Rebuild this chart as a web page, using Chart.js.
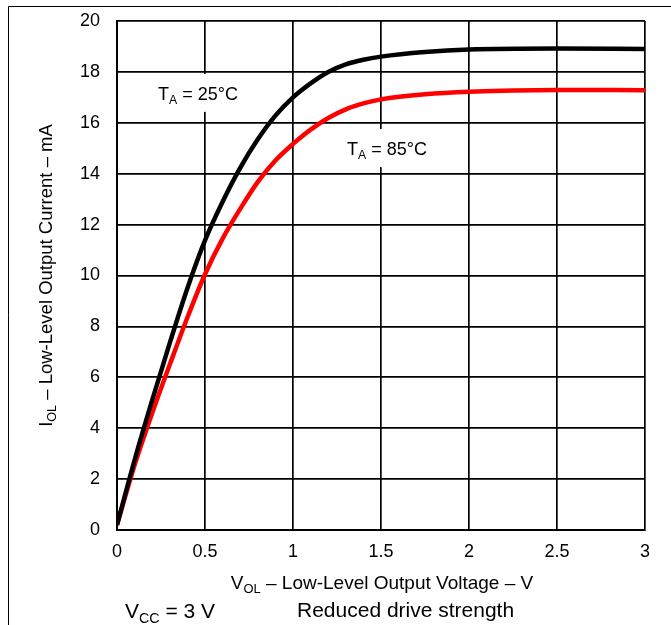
<!DOCTYPE html>
<html>
<head>
<meta charset="utf-8">
<script src="https://cdn.jsdelivr.net/npm/chart.js@4/dist/chart.umd.min.js"></script>
<style>
  body { margin: 0; background: #fff; }
  #wrap { width: 671px; height: 625px; }
</style>
</head>
<body>
<div id="wrap"><canvas id="myChart" width="671" height="625"></canvas></div>
<script>
// V_OL (V) and I_OL (mA)
var voltage = [0, 0.1, 0.2, 0.3, 0.4, 0.5, 0.6, 0.7, 0.8, 0.9, 1.0, 1.1, 1.2, 1.3, 1.4, 1.5, 1.75, 2.0, 2.5, 3.0];
var curr25 = [0.2, 2.75, 5.1, 7.35, 9.5, 11.38, 12.9, 14.23, 15.35, 16.28, 17.0, 17.55, 18.0, 18.3, 18.48, 18.6, 18.78, 18.88, 18.92, 18.9];
var curr85 = [0.2, 2.55, 4.6, 6.5, 8.35, 10.05, 11.45, 12.62, 13.68, 14.52, 15.17, 15.73, 16.19, 16.53, 16.76, 16.92, 17.12, 17.22, 17.29, 17.28];

var xTicks = [0, 0.5, 1, 1.5, 2, 2.5, 3];
var yTicks = [0, 2, 4, 6, 8, 10, 12, 14, 16, 18, 20];

// curve labels, placed in data units
var curveLabels = [
  { main: "T", sub: "A", rest: " = 25°C", v: 0.233, i: 16.9 },
  { main: "T", sub: "A", rest: " = 85°C", v: 1.307, i: 14.73 }
];

var FONT = '"Liberation Sans", Arial, sans-serif';

function toPoints(xs, ys) {
  var pts = [];
  for (var i = 0; i < xs.length; i++) pts.push({ x: xs[i], y: ys[i] });
  return pts;
}

// draw text made of pieces, some of them subscripts
function drawParts(ctx, parts, x, y, size) {
  var cx = x;
  parts.forEach(function (p) {
    var s = p.sub ? size * 0.68 : size;
    ctx.font = s + "px " + FONT;
    ctx.fillText(p.t, cx, p.sub ? y + size * 0.22 : y);
    cx += ctx.measureText(p.t).width;
  });
  return cx - x;
}
function measureParts(ctx, parts, size) {
  var w = 0;
  parts.forEach(function (p) {
    ctx.font = (p.sub ? size * 0.68 : size) + "px " + FONT;
    w += ctx.measureText(p.t).width;
  });
  return w;
}

var textPlugin = {
  id: "textPlugin",
  beforeDraw: function (chart) {
    var ctx = chart.ctx;
    ctx.save();
    ctx.fillStyle = "#fff";
    ctx.fillRect(0, 0, chart.width, chart.height);
    // frame top and left
    ctx.strokeStyle = "#000";
    ctx.lineWidth = 1;
    ctx.beginPath();
    ctx.moveTo(8.5, chart.height);
    ctx.lineTo(8.5, 6.5);
    ctx.lineTo(chart.width, 6.5);
    ctx.stroke();
    ctx.restore();
  },
  afterDatasetsDraw: function (chart) {
    var ctx = chart.ctx;
    var xs = chart.scales.x, ys = chart.scales.y;
    var area = chart.chartArea;
    ctx.save();
    ctx.fillStyle = "#000";
    ctx.textBaseline = "alphabetic";
    ctx.textAlign = "left";

    // curve labels with white boxes
    curveLabels.forEach(function (lb) {
      var parts = [{ t: lb.main }, { t: lb.sub, sub: true }, { t: lb.rest }];
      var px = xs.getPixelForValue(lb.v);
      var py = ys.getPixelForValue(lb.i);
      var w = measureParts(ctx, parts, 18);
      ctx.fillStyle = "#fff";
      ctx.fillRect(px - 8, py - 26, w + 16, 38);
      ctx.fillStyle = "#000";
      drawParts(ctx, parts, px, py, 18);
    });

    // x axis title
    var xParts = [{ t: "V" }, { t: "OL", sub: true }, { t: " – Low-Level Output Voltage – V" }];
    var xw = measureParts(ctx, xParts, 19);
    drawParts(ctx, xParts, (area.left + area.right) / 2 - xw / 2 + 1, 589, 19);

    // y axis title
    var yParts = [{ t: "I" }, { t: "OL", sub: true }, { t: " – Low-Level Output Current – mA" }];
    var yw = measureParts(ctx, yParts, 18.5);
    ctx.translate(52, (area.top + area.bottom) / 2);
    ctx.rotate(-Math.PI / 2);
    drawParts(ctx, yParts, -yw / 2, 0, 18.5);
    ctx.setTransform(1, 0, 0, 1, 0, 0);

    // bottom notes
    drawParts(ctx, [{ t: "V" }, { t: "CC", sub: true }, { t: " = 3 V" }], 125, 618, 21);
    drawParts(ctx, [{ t: "Reduced drive strength" }], 297, 617, 21);
    ctx.restore();
  }
};

var ctx = document.getElementById("myChart").getContext("2d");
var myChart = new Chart(ctx, {
  type: "scatter",
  data: {
    datasets: [
      {
        label: "TA = 25°C",
        data: toPoints(voltage, curr25),
        showLine: true,
        borderColor: "#000000",
        borderWidth: 4.5,
        pointRadius: 0,
        cubicInterpolationMode: "monotone",
        fill: false
      },
      {
        label: "TA = 85°C",
        data: toPoints(voltage, curr85),
        showLine: true,
        borderColor: "#ff0000",
        borderWidth: 4.5,
        pointRadius: 0,
        cubicInterpolationMode: "monotone",
        fill: false
      }
    ]
  },
  options: {
    responsive: false,
    animation: false,
    devicePixelRatio: 1,
    layout: { padding: { left: 0, top: 21, right: 26, bottom: 0 } },
    plugins: {
      legend: { display: false },
      tooltip: { enabled: false },
      title: { display: false }
    },
    scales: {
      x: {
        type: "linear",
        min: 0,
        max: 3,
        afterBuildTicks: function (s) { s.ticks = xTicks.map(function (v) { return { value: v }; }); },
        afterFit: function (s) { s.height = 95; },
        grid: { color: "#000", lineWidth: 1.7, drawTicks: false },
        border: { display: true, color: "#000", width: 2 },
        ticks: {
          color: "#000", padding: 11, font: { family: FONT, size: 18 },
          callback: function (v) { return String(v); }
        }
      },
      y: {
        type: "linear",
        min: 0,
        max: 20,
        afterBuildTicks: function (s) { s.ticks = yTicks.map(function (v) { return { value: v }; }); },
        afterFit: function (s) { s.width = 117; },
        grid: { color: "#000", lineWidth: 1.7, drawTicks: true, tickLength: 14, tickColor: "rgba(0,0,0,0)" },
        border: { display: true, color: "#000", width: 2 },
        ticks: {
          color: "#000", padding: 3, font: { family: FONT, size: 18 },
          callback: function (v) { return String(v); }
        }
      }
    }
  },
  plugins: [textPlugin]
});
</script>
</body>
</html>
